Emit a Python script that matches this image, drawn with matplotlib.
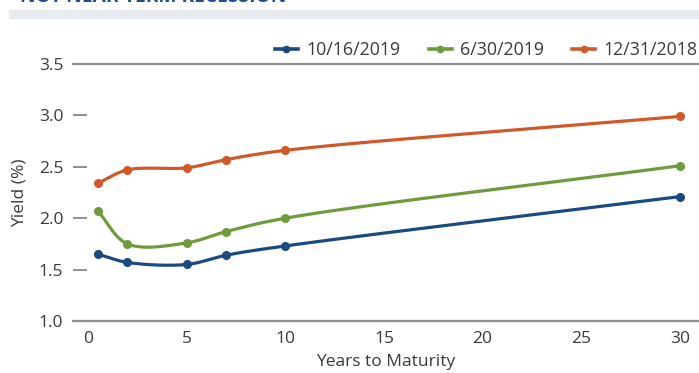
import numpy as np
import matplotlib
matplotlib.use("Agg")
import matplotlib.pyplot as plt
from matplotlib.patches import Rectangle

plt.rcParams['font.family'] = ['Open Sans', 'DejaVu Sans']

# Treasury yield curves (years to maturity vs. yield in %)
maturities = [0.5, 2, 5, 7, 10, 30]
series_names = ["10/16/2019", "6/30/2019", "12/31/2018"]
yields_oct2019 = [1.65, 1.57, 1.55, 1.64, 1.73, 2.21]
yields_jun2019 = [2.07, 1.75, 1.76, 1.87, 2.00, 2.51]
yields_dec2018 = [2.34, 2.47, 2.49, 2.57, 2.66, 2.99]
colors = ["#1b4a80", "#6e9b3d", "#d0592a"]

y_ticks = [1.0, 1.5, 2.0, 2.5, 3.0, 3.5]
x_ticks = [0, 5, 10, 15, 20, 25, 30]

XLIM = (-0.76, 30.97)
YLIM = (1.0, 3.5)


def smooth_curve(xs, ys, sx, sy, n=60):
    """Centripetal Catmull-Rom through the points, computed in screen space."""
    p = np.column_stack([np.asarray(xs) * sx, np.asarray(ys) * sy]).astype(float)
    d = np.linalg.norm(np.diff(p, axis=0), axis=1) ** 0.5
    t = np.concatenate([[0], np.cumsum(d)])
    m = np.zeros_like(p)
    for i in range(len(p)):
        if i == 0:
            m[i] = (p[1] - p[0]) / (t[1] - t[0])
        elif i == len(p) - 1:
            m[i] = (p[i] - p[i - 1]) / (t[i] - t[i - 1])
        else:
            m[i] = ((p[i] - p[i - 1]) / (t[i] - t[i - 1])
                    - (p[i + 1] - p[i - 1]) / (t[i + 1] - t[i - 1])
                    + (p[i + 1] - p[i]) / (t[i + 1] - t[i]))
    out = []
    for i in range(len(p) - 1):
        h = t[i + 1] - t[i]
        u = np.linspace(0, 1, n)[:, None]
        h00 = 2 * u ** 3 - 3 * u ** 2 + 1
        h10 = u ** 3 - 2 * u ** 2 + u
        h01 = -2 * u ** 3 + 3 * u ** 2
        h11 = u ** 3 - u ** 2
        seg = h00 * p[i] + h10 * h * m[i] + h01 * p[i + 1] + h11 * h * m[i + 1]
        out.append(seg if i == 0 else seg[1:])
    out = np.vstack(out)
    return out[:, 0] / sx, out[:, 1] / sy


fig = plt.figure(figsize=(6.99, 3.73), dpi=100)
ax_left, ax_bottom_px, ax_top_px = 73, 321, 64
ax = fig.add_axes([ax_left / 699, 1 - ax_bottom_px / 373, 1 - ax_left / 699,
                   (ax_bottom_px - ax_top_px) / 373])

# pixels per data unit, used for screen-space smoothing
px_x = (699 - ax_left) / (XLIM[1] - XLIM[0])
px_y = (ax_bottom_px - ax_top_px) / (YLIM[1] - YLIM[0])

grey = "#8f8f8f"
text_col = "#3a3a3a"

for name, ys, col in zip(series_names, [yields_oct2019, yields_jun2019, yields_dec2018], colors):
    cx, cy = smooth_curve(maturities, ys, px_x, px_y)
    ax.plot(cx, cy, color=col, lw=2.3, solid_capstyle='round', zorder=3)
    ax.plot(maturities, ys, 'o', color=col, ms=5.5, zorder=4)
    ax.plot([], [], '-o', color=col, lw=2.6, ms=4.5, label=name)

ax.set_xlim(*XLIM)
ax.set_ylim(*YLIM)
ax.set_yticks(y_ticks)
ax.set_yticklabels([f"{v:.1f}" for v in y_ticks])
ax.set_xticks(x_ticks)

for s in ["left", "right"]:
    ax.spines[s].set_visible(False)
for s in ["top", "bottom"]:
    ax.spines[s].set_color(grey)
    ax.spines[s].set_linewidth(1.6)

ax.tick_params(axis='y', direction='in', length=10, width=1.4, color=grey,
               pad=7, labelsize=12.5, labelcolor=text_col)
ax.tick_params(axis='x', length=0, pad=7, labelsize=12.5, labelcolor=text_col)

ax.set_ylabel("Yield (%)", fontsize=12.5, color=text_col, labelpad=8)
ax.set_xlabel("Years to Maturity", fontsize=12.5, color=text_col, labelpad=5)

leg = fig.legend(loc='center right', bbox_to_anchor=(1.0, 1 - 50 / 373),
                 ncol=3, frameon=False, fontsize=12.8, handlelength=1.3,
                 handletextpad=0.45, columnspacing=1.6, borderaxespad=0.1,
                 borderpad=0)
for t in leg.get_texts():
    t.set_color(text_col)

# header band and cropped heading
fig.patches.append(Rectangle((9 / 699, 1 - 18 / 373), 1, 8 / 373,
                             transform=fig.transFigure, color="#e8ebf0", zorder=0))
fig.text(20 / 699, 1 - 2 / 373, "NOT NEAR-TERM RECESSION", fontsize=13.8,
         fontweight='bold', color="#1f4f8f", va='baseline', ha='left')

fig.savefig("out.png", dpi=100)
